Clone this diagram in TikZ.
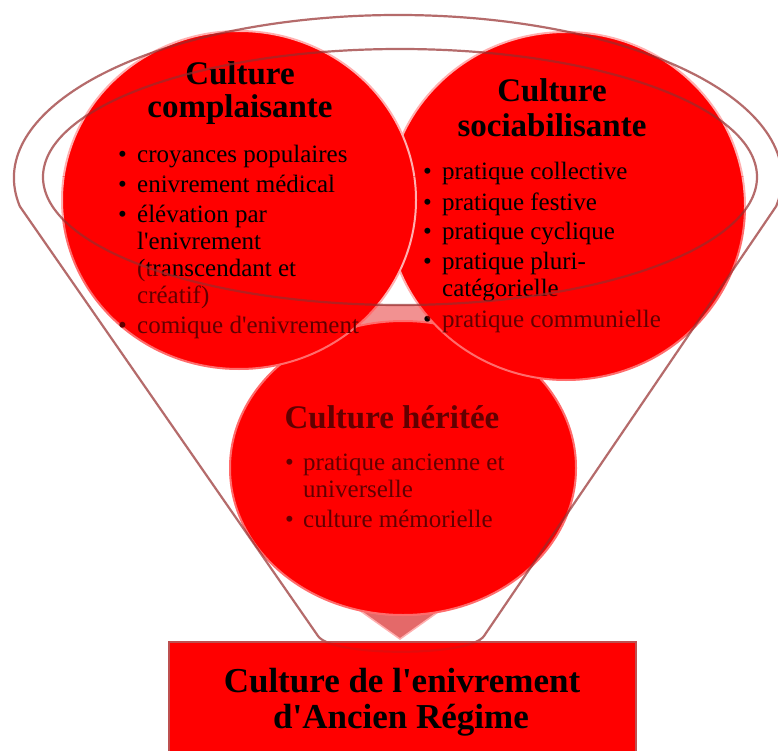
\documentclass[tikz,border=0pt]{standalone}
\usepackage{fontspec}
\setmainfont{Liberation Serif}[Ligatures=TeXOff]
\definecolor{fline}{RGB}{150,45,45}
\definecolor{cedge}{RGB}{255,175,175}
\definecolor{pinkfill}{RGB}{242,145,145}
\definecolor{arrowfill}{RGB}{228,105,105}
\definecolor{rectedge}{RGB}{190,80,80}
\begin{document}
\begin{tikzpicture}[x=1pt,y=-1pt,
  circfill/.style={fill=red, draw=cedge, line width=2pt},
  funnelline/.style={draw=fline, line width=2.2pt, line join=round, draw opacity=0.7},
  ttl/.style={font=\fontsize{33}{33}\selectfont\bfseries, anchor=base, inner sep=0pt},
  rtl/.style={font=\fontsize{35}{36}\selectfont\bfseries, anchor=base, inner sep=0pt},
  lst/.style={font=\fontsize{25}{27}\selectfont, anchor=base west, inner sep=0pt},
]
\useasboundingbox (0,0) rectangle (778,751);
\fill[white] (0,0) rectangle (778,751);

% small gap patch between the circles
\fill[pinkfill] (345,305) rectangle (435,335);
% down arrow triangle
\filldraw[fill=arrowfill, draw=cedge, line width=1.5pt] (338,595) -- (462,595) -- (400,639) -- cycle;

% circles
\path[circfill] (403,468) ellipse [x radius=173, y radius=147];
\path[circfill] (566,206) ellipse [x radius=179, y radius=174];
\path[circfill] (239,200) ellipse [x radius=177, y radius=169];

% texts of left circle
\node[ttl] (t1a) at (240,85) {Culture};
\node[ttl] (t1b) at (240,118) {complaisante};
\node[lst] (l1) at (118,163) {\begin{tabular}[t]{@{}p{19pt}@{}l@{}}
\textbullet & croyances populaires\\[3pt]
\textbullet & enivrement médical\\[3pt]
\textbullet & élévation par\\
 & l'enivrement\\
 & (transcendant et\\
 & créatif)\\[3pt]
\textbullet & comique d'enivrement
\end{tabular}};

% texts of right circle
\node[ttl] (t2a) at (552,102) {Culture};
\node[ttl] (t2b) at (552,137) {sociabilisante};
\node[lst] (l2) at (423,180) {\begin{tabular}[t]{@{}p{19pt}@{}l@{}}
\textbullet & pratique collective\\[4pt]
\textbullet & pratique festive\\[2pt]
\textbullet & pratique cyclique\\[3pt]
\textbullet & pratique pluri-\\
 & catégorielle\\[4pt]
\textbullet & pratique communielle
\end{tabular}};

% texts of bottom circle
\node[ttl] (t3) at (392,428) {Culture héritée};
\node[lst] (l3) at (285,470) {\begin{tabular}[t]{@{}p{18pt}@{}l@{}}
\textbullet & pratique ancienne et\\
 & universelle\\[3pt]
\textbullet & culture mémorielle
\end{tabular}};

% translucent overlay of the funnel body (below the inner ellipse)
\begin{scope}
  \clip (239,200) ellipse [x radius=178, y radius=170]
        (566,206) ellipse [x radius=180, y radius=175]
        (403,468) ellipse [x radius=174, y radius=148];
  \clip (0,177) rectangle (778,751);
  \fill[red, opacity=0.38, even odd rule] (0,177) rectangle (778,751)
        (400,177) ellipse [x radius=357, y radius=128];
\end{scope}

% funnel outline
\draw[funnelline] (19.8,206.3) arc[start angle=170, end angle=370, x radius=384, y radius=163]
  -- (484,636) .. controls (470,657) and (332,657) .. (318,636) -- cycle;
\draw[funnelline] (400,177) ellipse [x radius=357, y radius=128];

% result box
\node[draw=rectedge, fill=red, line width=2pt, minimum width=467pt, minimum height=130pt,
      anchor=north west, inner sep=0pt] (rb) at (168,641) {};
\begin{scope}
  \clip (169,642) rectangle (634,751);
  \draw[funnelline, draw opacity=0.25] (19.8,206.3) arc[start angle=170, end angle=370, x radius=384, y radius=163]
    -- (484,636) .. controls (470,657) and (332,657) .. (318,636) -- cycle;
\end{scope}
\node[rtl] (r1) at (402,692) {Culture de l'enivrement};
\node[rtl] (r2) at (401,728) {d'Ancien Régime};
\end{tikzpicture}
\end{document}
